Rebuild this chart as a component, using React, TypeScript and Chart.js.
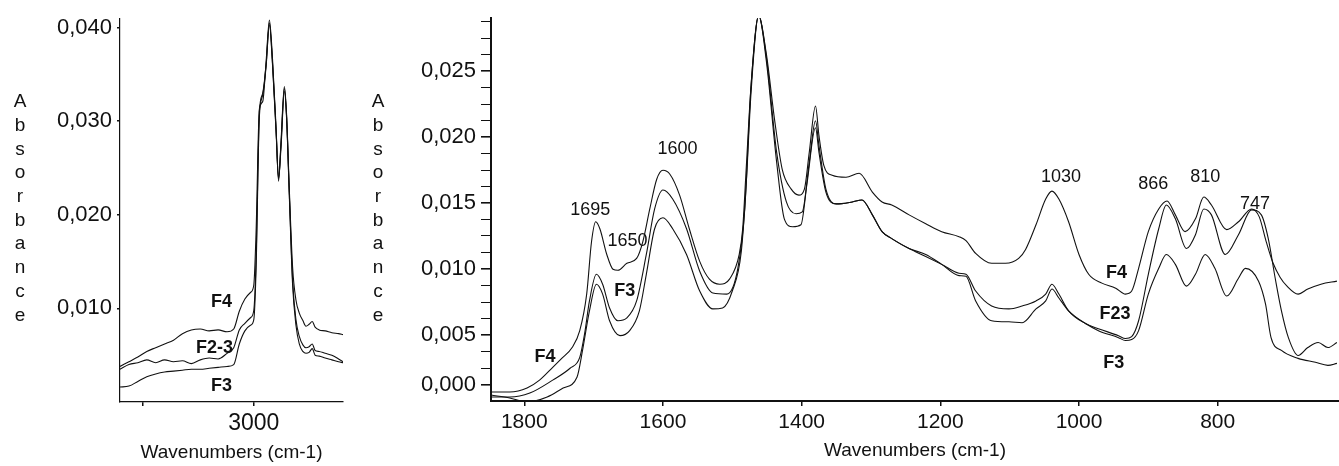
import React, { useEffect, useRef } from 'react';
import { Chart, registerables } from 'chart.js';

Chart.register(...registerables);

const FONT = "'Liberation Sans', Arial, Helvetica, sans-serif";
const INK = '#111111';

// ---------- Left panel: 3600–2600 cm-1 ----------
const LEFT_WN = [3600, 3560, 3520, 3480, 3440, 3400, 3360, 3320, 3280, 3240, 3200, 3160, 3120, 3090, 3065, 3040, 3015, 3000, 2990, 2975, 2960, 2945, 2930, 2916, 2900, 2889, 2878, 2863, 2853, 2841, 2826, 2811, 2796, 2780, 2766, 2752, 2738, 2725, 2707, 2680, 2650, 2620, 2600];
const LEFT_F4 = [0.0038, 0.0043, 0.0048, 0.0054, 0.0058, 0.0062, 0.0066, 0.0073, 0.0077, 0.0078, 0.0076, 0.0077, 0.0075, 0.0078, 0.0097, 0.0110, 0.0117, 0.0125, 0.0180, 0.0313, 0.0321, 0.0363, 0.0408, 0.0366, 0.0292, 0.0236, 0.0278, 0.0337, 0.0307, 0.0229, 0.0144, 0.0109, 0.0095, 0.0087, 0.0081, 0.0083, 0.0086, 0.0080, 0.0077, 0.0076, 0.0074, 0.0073, 0.0072];
const LEFT_F23 = [0.0035, 0.0040, 0.0042, 0.0045, 0.0042, 0.0045, 0.0043, 0.0044, 0.0041, 0.0045, 0.0047, 0.0046, 0.0052, 0.0058, 0.0077, 0.0084, 0.0090, 0.0098, 0.0150, 0.0310, 0.0330, 0.0360, 0.0405, 0.0362, 0.0290, 0.0240, 0.0275, 0.0335, 0.0305, 0.0225, 0.0130, 0.0088, 0.0070, 0.0061, 0.0058, 0.0059, 0.0062, 0.0055, 0.0054, 0.0052, 0.0050, 0.0046, 0.0043];
const LEFT_F3 = [0.0016, 0.0017, 0.0022, 0.0027, 0.0030, 0.0032, 0.0033, 0.0034, 0.0035, 0.0035, 0.0036, 0.0037, 0.0038, 0.0040, 0.0062, 0.0076, 0.0082, 0.0088, 0.0140, 0.0305, 0.0328, 0.0358, 0.0403, 0.0360, 0.0288, 0.0238, 0.0272, 0.0332, 0.0303, 0.0222, 0.0125, 0.0082, 0.0062, 0.0054, 0.0052, 0.0053, 0.0057, 0.0050, 0.0049, 0.0047, 0.0045, 0.0043, 0.0042];

const LEFT_X_TICKS = [3500, 3000];
const LEFT_X_LABELS = ['', '3000'];
const LEFT_Y_TICKS = [0.01, 0.02, 0.03, 0.04];
const LEFT_Y_LABELS = ['0,010', '0,020', '0,030', '0,040'];

const LEFT_NOTES = [
  { t: 'F4', x: 3145, y: 0.0107, bold: true },
  { t: 'F2-3', x: 3176, y: 0.0058, bold: true },
  { t: 'F3', x: 3145, y: 0.0017, bold: true },
];

// ---------- Right panel: 1848–625 cm-1 ([wavenumber, absorbance]) ----------
const RIGHT_F4: [number, number][] = [
  [1848, 0.00068], [1821, 0.00068], [1796, 0.00098], [1778, 0.00158], [1759, 0.00255], [1746, 0.00323], [1731, 0.00405], [1720, 0.00533], [1710, 0.0081], [1703, 0.01208], [1697, 0.01358], [1691, 0.01305], [1681, 0.0111], [1672, 0.00998], [1665, 0.0099], [1652, 0.01043], [1638, 0.0108], [1629, 0.01208], [1619, 0.01455], [1609, 0.0168], [1600, 0.01748], [1590, 0.01718], [1576, 0.0156], [1562, 0.01305], [1547, 0.01058], [1533, 0.00923], [1518, 0.00885], [1504, 0.00923], [1490, 0.0111], [1485, 0.01305], [1480, 0.01755], [1473, 0.02385], [1462, 0.0292], [1451, 0.02633], [1439, 0.0213], [1428, 0.01755], [1415, 0.01605], [1404, 0.0156], [1396, 0.01605], [1389, 0.01883], [1380, 0.02235], [1375, 0.0201], [1368, 0.01785], [1356, 0.0171], [1336, 0.01695], [1317, 0.01725], [1298, 0.01583], [1284, 0.01508], [1270, 0.01485], [1245, 0.0141], [1221, 0.01343], [1198, 0.01283], [1173, 0.01245], [1163, 0.01215], [1149, 0.01118], [1126, 0.01043], [1106, 0.01043], [1087, 0.0108], [1077, 0.01148], [1062, 0.01335], [1048, 0.0153], [1039, 0.0159], [1029, 0.0153], [1015, 0.01358], [1000, 0.0111], [986, 0.0096], [967, 0.00893], [947, 0.00855], [933, 0.0081], [924, 0.00833], [914, 0.01005], [900, 0.01283], [885, 0.01455], [873, 0.01515], [861, 0.0141], [847, 0.01283], [832, 0.0138], [820, 0.01545], [809, 0.01485], [787, 0.01298], [770, 0.01358], [751, 0.01455], [740, 0.01395], [730, 0.01208], [720, 0.01043], [710, 0.00938], [700, 0.0087], [684, 0.0081], [670, 0.00848], [651, 0.00885], [628, 0.00908],
];
const RIGHT_F23: [number, number][] = [
  [1848, 0.0003], [1821, 0.0003], [1792, 0.0006], [1759, 0.00158], [1734, 0.00248], [1720, 0.0033], [1713, 0.0051], [1706, 0.00758], [1696, 0.0096], [1687, 0.00885], [1677, 0.00705], [1665, 0.00608], [1652, 0.0063], [1638, 0.00758], [1624, 0.0111], [1612, 0.01455], [1600, 0.01598], [1586, 0.0153], [1566, 0.01305], [1547, 0.00983], [1528, 0.00818], [1508, 0.0081], [1492, 0.01005], [1482, 0.01455], [1473, 0.02385], [1462, 0.0292], [1451, 0.0261], [1436, 0.01883], [1422, 0.01508], [1408, 0.01418], [1399, 0.01433], [1389, 0.01808], [1380, 0.02123], [1375, 0.01935], [1365, 0.01605], [1350, 0.01493], [1327, 0.01508], [1313, 0.01523], [1298, 0.0141], [1284, 0.01283], [1270, 0.0123], [1245, 0.01155], [1221, 0.01095], [1198, 0.01035], [1173, 0.00968], [1163, 0.0096], [1149, 0.00833], [1126, 0.0072], [1101, 0.00698], [1082, 0.0072], [1062, 0.00758], [1048, 0.0081], [1039, 0.00885], [1029, 0.0081], [1015, 0.00683], [990, 0.00585], [972, 0.00548], [943, 0.00495], [933, 0.00473], [924, 0.00488], [914, 0.00608], [900, 0.0096], [885, 0.01305], [874, 0.01485], [861, 0.0138], [845, 0.01155], [832, 0.0126], [820, 0.01455], [809, 0.0141], [789, 0.0111], [770, 0.0126], [751, 0.01448], [737, 0.0141], [727, 0.0123], [717, 0.0093], [708, 0.00683], [698, 0.0048], [684, 0.00345], [670, 0.00405], [655, 0.00443], [641, 0.00405], [628, 0.00443],
];
const RIGHT_F3: [number, number][] = [
  [1848, 0.00045], [1821, 0.00023], [1796, -0.00008], [1767, 0.0003], [1744, 0.00098], [1724, 0.0018], [1716, 0.00383], [1706, 0.00683], [1696, 0.00885], [1687, 0.0081], [1677, 0.00608], [1662, 0.00495], [1648, 0.00533], [1634, 0.00683], [1624, 0.0096], [1612, 0.01305], [1600, 0.01388], [1586, 0.01305], [1566, 0.0111], [1547, 0.00833], [1528, 0.00698], [1514, 0.00705], [1500, 0.00833], [1487, 0.01133], [1480, 0.01635], [1473, 0.02333], [1462, 0.0292], [1451, 0.0258], [1436, 0.01808], [1425, 0.0138], [1413, 0.0132], [1401, 0.01335], [1392, 0.01658], [1380, 0.0207], [1375, 0.01883], [1365, 0.01583], [1350, 0.01493], [1327, 0.01508], [1313, 0.01523], [1298, 0.0141], [1284, 0.01283], [1270, 0.0123], [1245, 0.01155], [1221, 0.0111], [1198, 0.01035], [1173, 0.0095], [1163, 0.00945], [1149, 0.00758], [1126, 0.00608], [1101, 0.006], [1082, 0.00593], [1062, 0.00698], [1048, 0.00758], [1039, 0.00848], [1029, 0.0078], [1015, 0.00683], [990, 0.00585], [972, 0.00533], [943, 0.0048], [933, 0.00458], [924, 0.00465], [914, 0.00533], [900, 0.0081], [885, 0.01005], [874, 0.0111], [861, 0.01035], [845, 0.0087], [832, 0.0096], [818, 0.0111], [804, 0.01005], [787, 0.00795], [770, 0.0093], [760, 0.01005], [741, 0.00908], [731, 0.00735], [723, 0.0048], [708, 0.00383], [684, 0.00323], [659, 0.00293], [641, 0.0027], [628, 0.00285],
];

const RIGHT_X_TICKS = [1800, 1600, 1400, 1200, 1000, 800];
const RIGHT_X_LABELS = ['1800', '1600', '1400', '1200', '1000', '800'];
const RIGHT_Y_TICKS = [0.00125, 0.005, 0.01, 0.015, 0.02, 0.025];
const RIGHT_Y_LABELS = ['0,000', '0,005', '0,010', '0,015', '0,020', '0,025'];
const RIGHT_Y_MINOR_STEP = 0.00125;

const RIGHT_NOTES = [
  { t: '1695', x: 1705, y: 0.0145, bold: false },
  { t: '1650', x: 1651, y: 0.0121, bold: false },
  { t: '1600', x: 1579, y: 0.0191, bold: false },
  { t: 'F4', x: 1770, y: 0.0033, bold: true },
  { t: 'F3', x: 1655, y: 0.0083, bold: true },
  { t: '1030', x: 1026, y: 0.0170, bold: false },
  { t: '866', x: 893, y: 0.0164, bold: false },
  { t: '810', x: 818, y: 0.0170, bold: false },
  { t: '747', x: 746, y: 0.0149, bold: false },
  { t: 'F4', x: 946, y: 0.0097, bold: true },
  { t: 'F23', x: 948, y: 0.0066, bold: true },
  { t: 'F3', x: 950, y: 0.00285, bold: true },
];

const Y_TITLE = 'Absorbance';

type Note = { t: string; x: number; y: number; bold: boolean };

function labelFor(values: number[], labels: string[], v: number): string {
  for (let i = 0; i < values.length; i++) {
    if (Math.abs(values[i] - v) < 1e-9) return labels[i];
  }
  return '';
}

function notesPlugin(notes: Note[], titleX: number, titleTop: number, titleStep: number) {
  return {
    id: 'notes',
    afterDatasetsDraw(chart: any) {
      const { ctx, scales } = chart;
      const sx = scales.x;
      const sy = scales.y;
      ctx.save();
      ctx.fillStyle = INK;
      ctx.textAlign = 'center';
      ctx.textBaseline = 'middle';
      for (const n of notes) {
        ctx.font = `${n.bold ? 'bold ' : ''}18px ${FONT}`;
        ctx.fillText(n.t, sx.getPixelForValue(n.x), sy.getPixelForValue(n.y));
      }
      ctx.font = `19px ${FONT}`;
      Y_TITLE.split('').forEach((ch, i) => {
        ctx.fillText(ch, titleX, titleTop + i * titleStep);
      });
      ctx.restore();
    },
  };
}

type PanelSpec = {
  series: { label: string; points: { x: number; y: number }[] }[];
  xMin: number; xMax: number; xTicks: number[]; xLabels: string[]; xFont: number; xTickLen: number;
  yMax: number; yTicks: number[]; yLabels: string[]; yAllTicks: number[]; yTickLen: number; yWidth: number;
  padTop: number; padRight: number; axisW: number; titlePadB: number;
  notes: Note[]; titleX: number;
};

function buildConfig(p: PanelSpec): any {
  return {
    type: 'line',
    data: {
      datasets: p.series.map((s) => ({
        label: s.label,
        data: s.points,
        borderColor: INK,
        borderWidth: 1.1,
        pointRadius: 0,
        fill: false,
        cubicInterpolationMode: 'monotone',
      })),
    },
    options: {
      responsive: false,
      animation: false,
      devicePixelRatio: 1,
      events: [],
      layout: { padding: { top: p.padTop, right: p.padRight, left: 0, bottom: 0 } },
      plugins: { legend: { display: false }, tooltip: { enabled: false }, title: { display: false } },
      scales: {
        x: {
          type: 'linear',
          reverse: true,
          min: p.xMin,
          max: p.xMax,
          afterBuildTicks: (s: any) => { s.ticks = p.xTicks.map((v) => ({ value: v })); },
          ticks: {
            autoSkip: false, maxRotation: 0, minRotation: 0, padding: 4, color: INK,
            font: { family: FONT, size: p.xFont },
            callback: (v: number) => labelFor(p.xTicks, p.xLabels, v),
          },
          grid: { drawOnChartArea: false, drawTicks: true, tickLength: p.xTickLen, color: INK, lineWidth: 1.5 },
          border: { display: true, color: INK, width: p.axisW },
          title: {
            display: true, text: 'Wavenumbers (cm-1)', color: INK,
            font: { family: FONT, size: 19 }, padding: { top: 0, bottom: p.titlePadB },
          },
        },
        y: {
          type: 'linear',
          min: 0,
          max: p.yMax,
          afterBuildTicks: (s: any) => { s.ticks = p.yAllTicks.map((v) => ({ value: v })); },
          afterFit: (s: any) => { s.width = p.yWidth; },
          ticks: {
            autoSkip: false, padding: 5, color: INK,
            font: { family: FONT, size: 22 },
            callback: (v: number) => labelFor(p.yTicks, p.yLabels, v),
          },
          grid: {
            drawOnChartArea: false, drawTicks: true, tickLength: p.yTickLen, color: INK,
            lineWidth: (c: any) => (c.tick && labelFor(p.yTicks, p.yLabels, c.tick.value) ? 1.6 : 1),
          },
          border: { display: true, color: INK, width: p.axisW },
        },
      },
    },
    plugins: [notesPlugin(p.notes, p.titleX, 102, 23.7)],
  };
}

function SpectrumPanel({ width, height, spec }: { width: number; height: number; spec: PanelSpec }) {
  const ref = useRef<HTMLCanvasElement>(null);
  useEffect(() => {
    if (!ref.current) return;
    const chart = new Chart(ref.current, buildConfig(spec));
    return () => chart.destroy();
  }, [spec]);
  return <canvas ref={ref} width={width} height={height} style={{ display: 'block', width, height }} />;
}

const leftSpec: PanelSpec = {
  series: [
    { label: 'F4', points: LEFT_WN.map((w, i) => ({ x: w, y: LEFT_F4[i] })) },
    { label: 'F2-3', points: LEFT_WN.map((w, i) => ({ x: w, y: LEFT_F23[i] })) },
    { label: 'F3', points: LEFT_WN.map((w, i) => ({ x: w, y: LEFT_F3[i] })) },
  ],
  xMin: 2600, xMax: 3600, xTicks: LEFT_X_TICKS, xLabels: LEFT_X_LABELS, xFont: 23, xTickLen: 4,
  yMax: 0.041, yTicks: LEFT_Y_TICKS, yLabels: LEFT_Y_LABELS, yAllTicks: LEFT_Y_TICKS, yTickLen: 3, yWidth: 120,
  padTop: 17, padRight: 17, axisW: 1.2, titlePadB: 1.6,
  notes: LEFT_NOTES, titleX: 20,
};

const rightMinor: number[] = [];
for (let v = RIGHT_Y_MINOR_STEP; v < 0.029; v += RIGHT_Y_MINOR_STEP) rightMinor.push(Math.round(v * 1e6) / 1e6);

const rightSpec: PanelSpec = {
  series: [
    { label: 'F4', points: RIGHT_F4.map(([x, y]) => ({ x, y })) },
    { label: 'F23', points: RIGHT_F23.map(([x, y]) => ({ x, y })) },
    { label: 'F3', points: RIGHT_F3.map(([x, y]) => ({ x, y })) },
  ],
  xMin: 625, xMax: 1848, xTicks: RIGHT_X_TICKS, xLabels: RIGHT_X_LABELS, xFont: 21, xTickLen: 5,
  yMax: 0.029, yTicks: RIGHT_Y_TICKS, yLabels: RIGHT_Y_LABELS, yAllTicks: rightMinor, yTickLen: 10, yWidth: 131,
  padTop: 15, padRight: 0, axisW: 2, titlePadB: 4,
  notes: RIGHT_NOTES, titleX: 18,
};

export default function App() {
  return (
    <div style={{ position: 'absolute', left: 0, top: 0, width: 1339, height: 466, background: '#fff', overflow: 'hidden' }}>
      <div style={{ position: 'absolute', left: 0, top: 0 }}>
        <SpectrumPanel width={360} height={466} spec={leftSpec} />
      </div>
      <div style={{ position: 'absolute', left: 360, top: 0 }}>
        <SpectrumPanel width={979} height={466} spec={rightSpec} />
      </div>
    </div>
  );
}
